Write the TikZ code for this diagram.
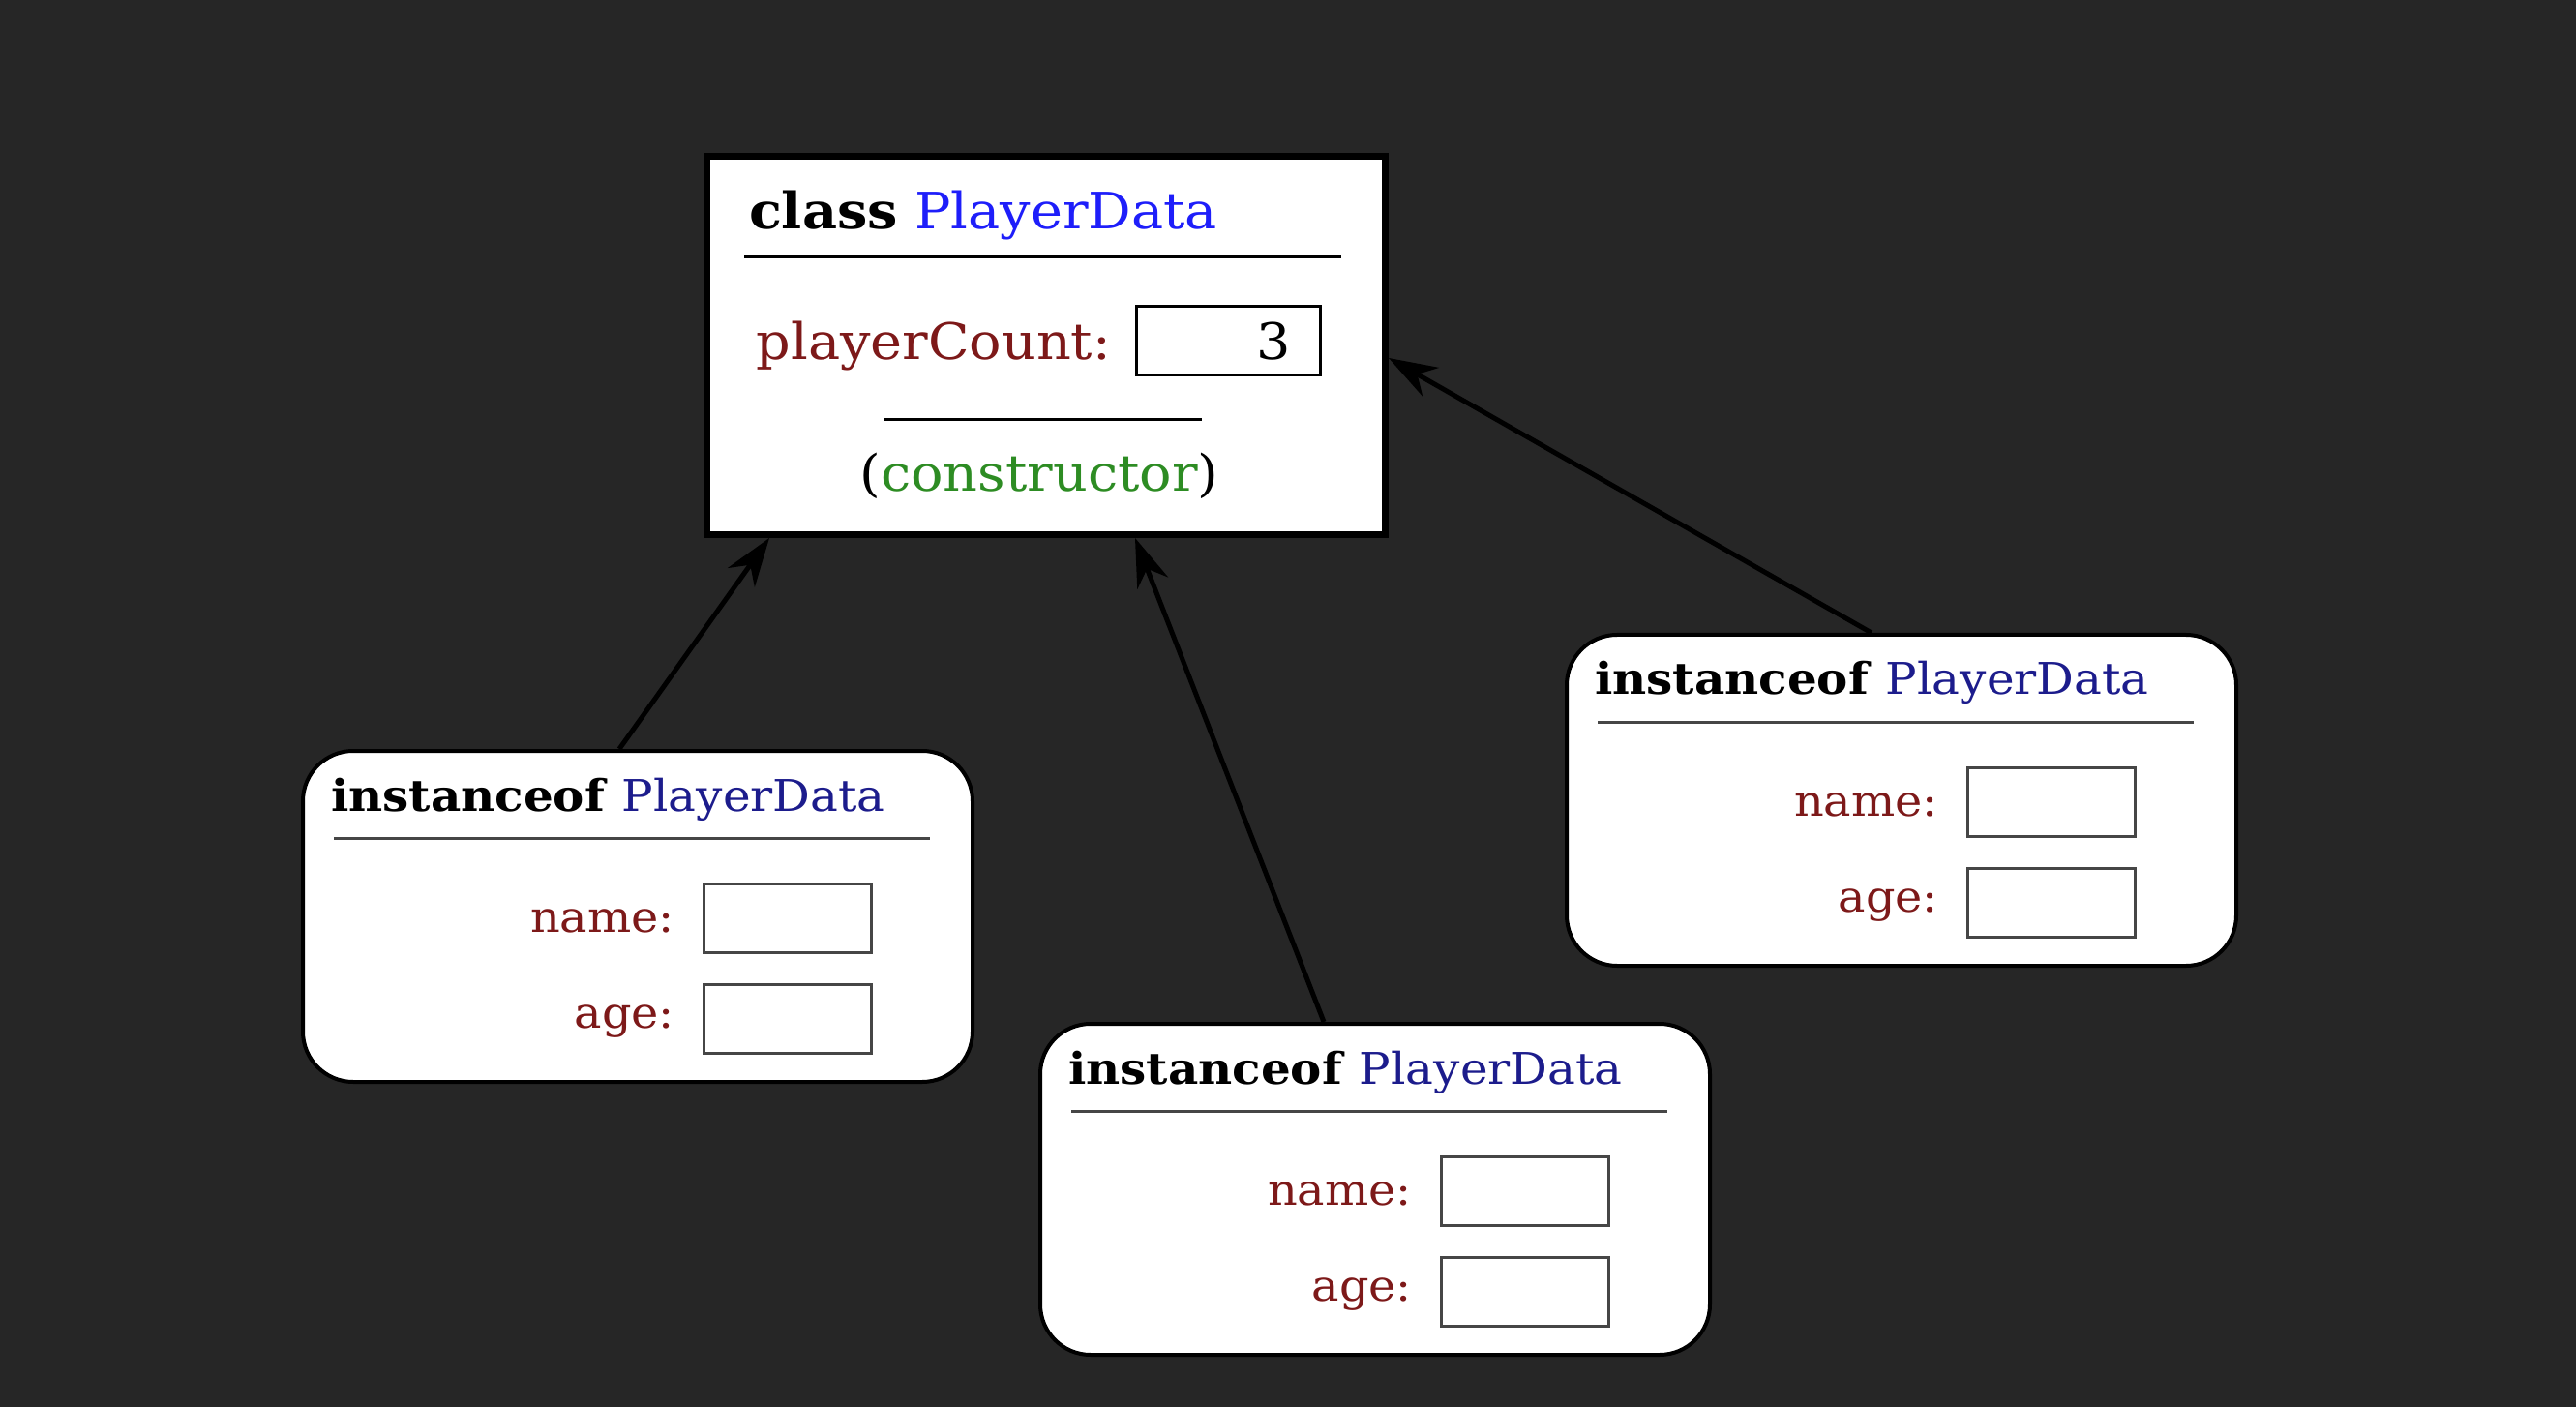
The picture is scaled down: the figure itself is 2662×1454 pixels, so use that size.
\documentclass[tikz,border=0pt]{standalone}
\usepackage{fontspec}
\setmainfont{DejaVu Serif}[FakeStretch=1.07]
\usetikzlibrary{calc,arrows.meta}
\definecolor{bgc}{HTML}{262626}
\definecolor{clsblue}{RGB}{30,30,250}
\definecolor{instblue}{RGB}{28,28,140}
\definecolor{fieldred}{RGB}{125,25,25}
\definecolor{ctorgreen}{RGB}{45,140,35}
\definecolor{grayline}{RGB}{70,70,70}
\tikzset{
  classbox/.style={draw=black,fill=white,line width=3.5pt,rectangle,inner sep=0pt,anchor=north west,minimum width=350.5pt,minimum height=195.5pt},
  instbox/.style={draw=black,fill=white,line width=2pt,rectangle,rounded corners=26pt,inner sep=0pt,anchor=north west,minimum width=346pt,minimum height=171pt},
  valbox/.style={draw=black,line width=1.3pt,rectangle,inner sep=0pt,anchor=north west},
  fieldbox/.style={draw=grayline,line width=1.3pt,rectangle,inner sep=0pt,anchor=north west,minimum width=86.5pt,minimum height=35.5pt},
  clsfont/.style={font=\fontsize{26pt}{30pt}\selectfont},
  instfont/.style={font=\fontsize{22.6pt}{26pt}\selectfont},
  fieldfont/.style={font=\fontsize{22.3pt}{26pt}\selectfont},
  txt/.style={inner sep=0pt,outer sep=0pt},
  conn/.style={draw=black,line width=2.5pt,-{Stealth[length=25pt,width=17pt,inset=8pt]}},
}
\begin{document}
\begin{tikzpicture}[x=0.5pt,y=-0.5pt]
\fill[bgc] (0,0) rectangle (2662,1454);
\useasboundingbox (0,0) rectangle (2662,1454);
% class box
\node[classbox] (cls) at (727,158) {};
\node[txt,clsfont,anchor=base west] (clstitle) at (774,237) {\textbf{class} \textcolor{clsblue}{PlayerData}};
\coordinate (s1a) at (769,266);
\coordinate (s1b) at (1386,266);
\draw[line width=1.5pt] (s1a) -- (s1b);
\node[txt,clsfont,anchor=base east,text=fieldred] (pc) at (1148,372) {playerCount:};
\node[valbox,minimum width=95pt,minimum height=35.5pt] (pcbox) at (1173,315) {};
\node[txt,clsfont,anchor=base east] (pcval) at (1334,372) {3};
\coordinate (s2a) at (913,434);
\coordinate (s2b) at (1242,434);
\draw[line width=1.5pt] (s2a) -- (s2b);
\node[txt,clsfont,anchor=base] (ctor) at (1074,508) {(\textcolor{ctorgreen}{constructor})};
% instances
\foreach \n/\x/\y in {i1/311/774, i2/1073/1056, i3/1617/654}{
  \node[instbox] (\n) at (\x,\y) {};
  \node[txt,instfont,anchor=base west] (\n t) at ($(\x,\y)+(31,64)$) {\textbf{instanceof} \textcolor{instblue}{PlayerData}};
  \coordinate (\n sa) at ($(\x,\y)+(34,92)$);
  \coordinate (\n sb) at ($(\x,\y)+(650,92)$);
  \draw[grayline,line width=1.5pt] (\n sa) -- (\n sb);
  \node[txt,fieldfont,anchor=base east,text=fieldred] (\n nl) at ($(\x,\y)+(386,189)$) {name:};
  \node[fieldbox] (\n nb) at ($(\x,\y)+(415,138)$) {};
  \node[txt,fieldfont,anchor=base east,text=fieldred] (\n al) at ($(\x,\y)+(386,288)$) {age:};
  \node[fieldbox] (\n ab) at ($(\x,\y)+(415,242)$) {};
}
% connectors
\coordinate (a1s) at ($(i1.north west)+(329,0)$);
\coordinate (a1e) at ($(cls.south west)+(68,0)$);
\coordinate (a2s) at ($(i2.north west)+(295,0)$);
\coordinate (a2e) at ($(cls.south west)+(446,0)$);
\coordinate (a3s) at ($(i3.north west)+(317,0)$);
\coordinate (a3e) at ($(cls.north east)+(0,212)$);
\draw[conn] (a1s) -- (a1e);
\draw[conn] (a2s) -- (a2e);
\draw[conn] (a3s) -- (a3e);
\end{tikzpicture}
\end{document}
